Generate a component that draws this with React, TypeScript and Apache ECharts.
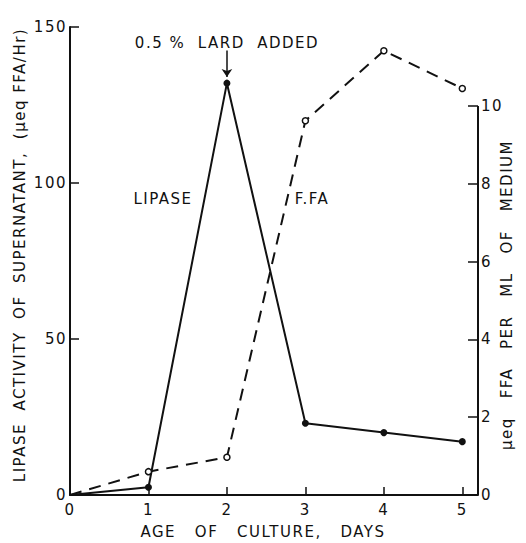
import React, { useEffect, useRef } from "react";
import * as echarts from "echarts";

const days = [0, 1, 2, 3, 4, 5];
const lipase = [0, 2.5, 132, 23, 20, 17.1];
const ffa = [0, 0.6, 0.97, 9.62, 11.42, 10.45];
const leftTicks = [0, 50, 100, 150];
const rightTicks = [0, 2, 4, 6, 8, 10];
const xTicks = [0, 1, 2, 3, 4, 5];

const FONT = "DejaVu Sans";
const INK = "#111";

export default function App() {
  const ref = useRef<HTMLDivElement>(null);
  useEffect(() => {
    document.body.style.margin = "0";
    const chart = echarts.init(ref.current!, null, { renderer: "svg" });
    const txt = { fontFamily: FONT, color: INK, fontSize: 15 };
    const t = (text: string, x: number, y: number, rot = 0) => ({
      type: "text",
      x,
      y,
      rotation: rot,
      style: { text, font: `15px ${FONT}`, fill: INK, align: "center", verticalAlign: "middle" },
    });
    chart.setOption({
      animation: false,
      backgroundColor: "#fff",
      grid: { left: 70, right: 48, top: 27, bottom: 48 },
      xAxis: {
        type: "value",
        min: 0,
        max: 5.2,
        interval: 1,
        splitLine: { show: false },
        axisLine: { lineStyle: { color: INK, width: 2 } },
        axisTick: {
          inside: true,
          length: 8,
          lineStyle: { color: INK, width: 1.5 },
          customValues: xTicks.slice(1),
        },
        axisLabel: { ...txt, margin: 7, customValues: xTicks },
      },
      yAxis: [
        {
          type: "value",
          min: 0,
          max: 150,
          interval: 50,
          splitLine: { show: false },
          axisLine: { show: true, lineStyle: { color: INK, width: 2 } },
          axisTick: {
            inside: true,
            length: 9,
            lineStyle: { color: INK, width: 1.5 },
            customValues: leftTicks,
          },
          axisLabel: { ...txt, margin: 3, customValues: leftTicks },
        },
        {
          type: "value",
          position: "right",
          min: 0,
          max: 12.03,
          splitLine: { show: false },
          axisLine: { show: false },
          axisTick: {
            show: true,
            inside: true,
            length: 10,
            lineStyle: { color: INK, width: 1.5 },
            customValues: rightTicks,
          },
          axisLabel: { ...txt, margin: 3, customValues: rightTicks },
        },
      ],
      series: [
        {
          name: "LIPASE",
          type: "line",
          yAxisIndex: 0,
          data: days.map((d, i) => [d, lipase[i]]),
          symbol: "circle",
          symbolSize: (_v: any, p: any) => (p && p.dataIndex === 0 ? 0 : 7),
          itemStyle: { color: INK },
          lineStyle: { color: INK, width: 2 },
          markLine: {
            silent: true,
            symbol: ["none", "arrow"],
            symbolSize: 8,
            lineStyle: { color: INK, width: 1.5, type: "solid" },
            label: { show: false },
            data: [[{ coord: [2, 142.5] }, { coord: [2, 134] }]],
          },
        },
        {
          name: "FFA",
          type: "line",
          yAxisIndex: 1,
          data: days.map((d, i) => [d, ffa[i]]),
          symbol: "circle",
          symbolSize: (_v: any, p: any) => (p && p.dataIndex === 0 ? 0 : 6),
          itemStyle: { color: "#fff", borderColor: INK, borderWidth: 1.5 },
          lineStyle: { color: INK, width: 2, type: [12, 8] },
          z: 3,
          markLine: {
            silent: true,
            symbol: ["none", "none"],
            lineStyle: { color: INK, width: 2, type: "solid" },
            label: { show: false },
            data: [[{ coord: [5.2, 0] }, { coord: [5.2, 10] }]],
          },
        },
      ],
      graphic: [
        t("0.5 %  LARD  ADDED", 227, 43),
        t("LIPASE", 163, 199),
        t("F.FA", 312, 199),
        t("AGE   OF   CULTURE,   DAYS", 263, 532),
        t("LIPASE  ACTIVITY  OF  SUPERNATANT,  (μeq FFA/Hr)", 20, 255, Math.PI / 2),
        t("μeq   FFA   PER   ML   OF   MEDIUM", 507, 295, Math.PI / 2),
      ],
    });
    return () => chart.dispose();
  }, []);
  return (
    <div>
      <style>{`.fig text { letter-spacing: 1.5px; }`}</style>
      <div className="fig" ref={ref} style={{ width: 526, height: 543 }} />
    </div>
  );
}
